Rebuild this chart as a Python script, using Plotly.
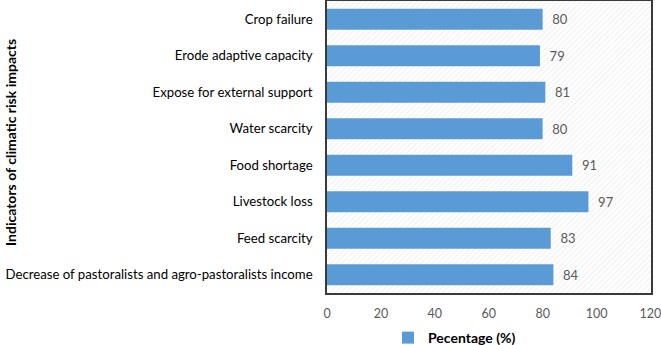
import plotly.graph_objects as go

categories = [
    "Crop failure",
    "Erode adaptive capacity",
    "Expose for external support",
    "Water scarcity",
    "Food shortage",
    "Livestock loss",
    "Feed scarcity",
    "Decrease of pastoralists and agro-pastoralists income",
]
values = [80, 79, 81, 80, 91, 97, 83, 84]
x_ticks = [0, 20, 40, 60, 80, 100, 120]
series_name = "Pecentage (%)"
y_title = "Indicators of climatic risk impacts"

FONT = "Lato, 'Open Sans', sans-serif"
W, H = 661, 345
L, R, T, B = 327, 10, 1, 52
pw = W - L - R
ph = H - T - B

fig = go.Figure()

# hatched plot background
fig.add_trace(go.Bar(
    x=[max(x_ticks) + 1], y=[0.5], base=0, width=[1], orientation="h",
    marker=dict(color="white", line=dict(width=0),
                pattern=dict(shape="/", fgcolor="#cfcfcf", bgcolor="white", size=4, solidity=0.22)),
    showlegend=False, hoverinfo="skip", yaxis="y",
))

fig.add_trace(go.Bar(
    x=values, y=categories, orientation="h", name=series_name,
    marker=dict(color="#5B9BD5", line=dict(width=0)),
    text=values, texttemplate="  %{text}", textposition="outside",
    textfont=dict(family=FONT, size=13, color="#595959"),
    cliponaxis=False, yaxis="y2", hoverinfo="skip",
))

fig.update_layout(
    width=W, height=H,
    margin=dict(l=L, r=R, t=T, b=B, autoexpand=False),
    paper_bgcolor="white", plot_bgcolor="white",
    font=dict(family=FONT, size=14, color="#000000"),
    bargap=0.42,
    showlegend=True,
    legend=dict(orientation="h", x=(388 - L) / pw, xanchor="left",
                y=(T + ph - 338) / ph, yanchor="middle",
                font=dict(family=FONT, size=14, color="#000000", weight="bold"),
                itemwidth=30, bgcolor="rgba(0,0,0,0)"),
    xaxis=dict(range=[0, 120.2], tickvals=x_ticks, showgrid=False, zeroline=False,
               showline=True, mirror=True, linecolor="#3a3a3a", linewidth=1.5,
               tickfont=dict(size=12.5, color="#595959"), ticks="", ticklabelstandoff=8,
               ticklabeloverflow="allow", automargin=False),
    yaxis=dict(range=[0, 1], visible=False, fixedrange=True),
    yaxis2=dict(overlaying="y", side="left", type="category", autorange="reversed",
                showgrid=False, zeroline=False, showline=True, mirror=True,
                linecolor="#3a3a3a", linewidth=1.5, ticks="", automargin=False,
                tickfont=dict(size=13.2, color="#000000"), ticklabelstandoff=10),
    annotations=[dict(text="<b>" + y_title + "</b>", xref="paper", yref="paper",
                      x=(11 - L) / pw, y=(T + ph - 143) / ph, textangle=-90,
                      showarrow=False, xanchor="center", yanchor="middle",
                      font=dict(family=FONT, size=14, color="#000000"))],
)

fig.write_html(
    "out.html",
    config={"displayModeBar": False},
    post_script="document.body.style.margin='0';document.body.style.padding='0';"
                "document.documentElement.style.overflow='hidden';",
)
